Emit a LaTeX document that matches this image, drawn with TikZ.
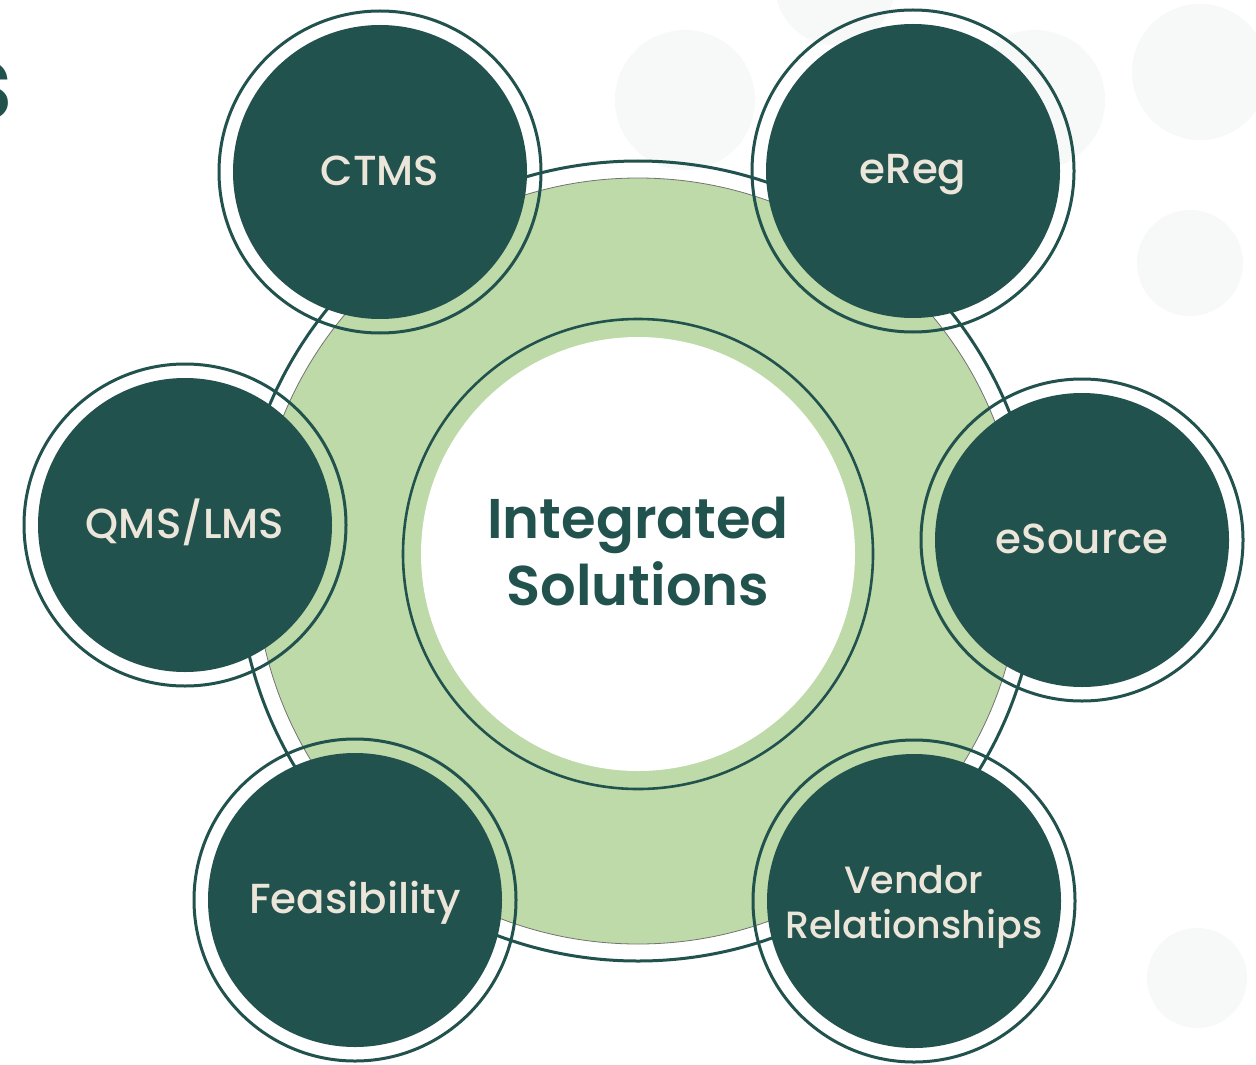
\documentclass[tikz,border=0pt]{standalone}
\usepackage{fontspec}
\setmainfont{Poppins}
\newfontfamily\labelfont{Poppins Medium}
\newfontfamily\headfont{Poppins SemiBold}
\definecolor{darkteal}{HTML}{22524E}
\definecolor{leaf}{HTML}{BDDAA8}
\definecolor{cream}{HTML}{ECE6DA}
\definecolor{mist}{HTML}{F7F9F9}

\begin{document}
\begin{tikzpicture}[x=0.5pt,y=-0.5pt,
        ring/.style={draw=darkteal,line width=1.5pt},
        bubble/.style={circle,fill=darkteal,minimum size=147pt,inner sep=0pt},
        lbl/.style={text=cream,font=\labelfont\fontsize{21}{22}\selectfont,anchor=base,inner sep=0pt},
        small lbl/.style={lbl,font=\labelfont\fontsize{19}{20}\selectfont},
        head/.style={text=darkteal,font=\headfont\fontsize{28}{33}\selectfont,anchor=base,inner sep=0pt}]

  \useasboundingbox (0,0) rectangle (1256,1064);
  \fill[white] (0,0) rectangle (1256,1064);

  \foreach \cx/\cy/\r in {685/100/70, 835/-15/60, 1035/100/70, 1200/72/68, 1190/263/53, 1197/978/50}
    \fill[mist] (\cx,\cy) circle (\r);

  \node[head,font=\headfont\fontsize{52}{52}\selectfont,anchor=base east] (tail) at (14,120) {s};

  \coordinate (hub) at (638,561);
  \coordinate (core) at (638,554);
  \draw[ring] (hub) circle (400);
  \draw[fill=leaf,draw=black!55,line width=0.4pt] (hub) circle (383);
  \draw[ring,line width=1.3pt] (core) circle (235);
  \node[circle,fill=white,minimum size=217pt,inner sep=0pt] (centre) at (core) {};
  \node[head] (integ) at (638,538) {Integrated};
  \node[head] (solu) at (638,605) {Solutions};

  \foreach \p/\cx/\cy in {ctms/380/172, ereg/913/171, qms/185/525, esrc/1082/540, feas/355/900, vend/914/901}
    \coordinate (\p) at (\cx,\cy);
  \foreach \p in {ctms,ereg,qms,esrc,feas,vend}
    \draw[ring] (\p) circle (161);

  \node[bubble] (ctms-b) at (ctms) {};
  \node[bubble] (ereg-b) at (ereg) {};
  \node[bubble] (qms-b) at (qms) {};
  \node[bubble] (esrc-b) at (esrc) {};
  \node[bubble] (feas-b) at (feas) {};
  \node[bubble] (vend-b) at (vend) {};

  \node[lbl] (ctms-l) at ([yshift=-6.5pt]ctms-b.center) {CTMS};
  \node[lbl] (ereg-l) at ([yshift=-6.5pt]ereg-b.center) {eReg};
  \node[lbl] (qms-l) at ([yshift=-6.5pt]qms-b.center) {QMS/LMS};
  \node[lbl] (esrc-l) at ([yshift=-6.5pt]esrc-b.center) {eSource};
  \node[lbl] (feas-l) at ([yshift=-6.5pt]feas-b.center) {Feasibility};
  \node[small lbl] (vend-l) at ([yshift=4pt]vend-b.center) {Vendor};
  \node[small lbl] (rel-l) at ([yshift=-18.5pt]vend-b.center) {Relationships};

\end{tikzpicture}
\end{document}
